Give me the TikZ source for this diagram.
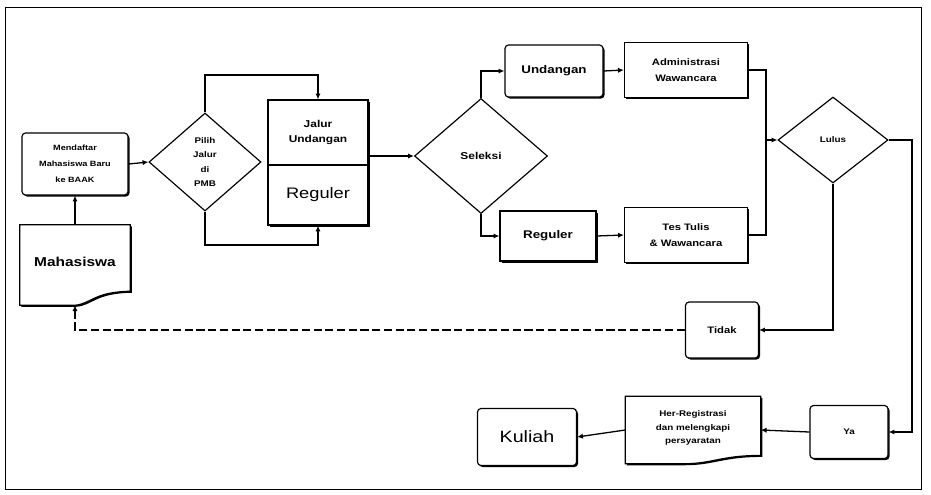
\documentclass[tikz,border=0pt]{standalone}
\usepackage{fontspec}
\setmainfont{Liberation Sans}
\newfontfamily\lbl[FakeStretch=1.2]{Liberation Sans}
\usetikzlibrary{shapes.geometric,arrows.meta,shadows}

\newcommand{\fs}[2]{\fontsize{#1}{#2}\selectfont}

\begin{document}
\begin{tikzpicture}[x=0.03cm, y=-0.03cm,
    box/.style={draw, line width=1pt, fill=white, align=center, inner sep=1pt,
        font=\lbl\bfseries\fs{7}{12},
        drop shadow={shadow xshift=1.3pt, shadow yshift=-1.3pt, opacity=1, fill=black}},
    rbox/.style={box, rounded corners=3pt},
    decision/.style={draw, diamond, line width=1pt, fill=white, align=center, inner sep=0pt,
        font=\lbl\bfseries\fs{7}{12.5}},
    docbox/.style={align=center, inner sep=0pt, font=\lbl\bfseries\fs{7}{12}},
    docline/.style={draw, line width=1pt, fill=white,
        drop shadow={shadow xshift=1.3pt, shadow yshift=-1.3pt, opacity=1, fill=black}},
    conn/.style={line width=1.1pt},
    arr/.style={line width=1.1pt, -{Latex[length=5pt,width=4.5pt]}}]

    \useasboundingbox (0,0) rectangle (931,494);
    \draw [line width=0.6pt] (5,7) rectangle (921,489);

    % registration
    \node[rbox, minimum width=3.18cm, minimum height=1.86cm, font=\lbl\bfseries\fs{6.5}{13.5}] (daftar) at (75,164) {Mendaftar\\Mahasiswa Baru\\ke BAAK};
    \node[docbox, minimum width=3.3cm, minimum height=2.4cm] (mhs) at (75,265) {};
    \path[docline] (mhs.north west) -- (mhs.north east) -- ([yshift=0.42cm]mhs.south east)
        .. controls ([xshift=-1.1cm,yshift=0.4cm]mhs.south east) and ([xshift=0.5cm,yshift=0.05cm]mhs.south) .. (mhs.south)
        -- (mhs.south west) -- cycle;
    \node[docbox, font=\lbl\bfseries\fs{11}{12}] at ([yshift=0.1cm]mhs.center) {Mahasiswa};

    \node[decision, minimum width=3.36cm, minimum height=2.94cm] (pilih) at (205,162) {Pilih\\Jalur\\di\\PMB};

    % jalur
    \node[box, minimum width=3.0cm, minimum height=1.95cm, font=\lbl\bfseries\fs{8.5}{13}] (jalur) at (318,132.5) {Jalur\\Undangan};
    \node[box, minimum width=3.0cm, minimum height=1.8cm, font=\lbl\fs{13}{14}] (regA) at (318,195) {Reguler};

    \node[decision, minimum width=3.99cm, minimum height=3.45cm, font=\lbl\bfseries\fs{8.5}{10}] (seleksi) at (481,156) {Seleksi};

    \node[rbox, minimum width=2.94cm, minimum height=1.56cm, font=\lbl\bfseries\fs{9.5}{11}] (undangan) at (554,71) {Undangan};
    \node[box, minimum width=3.69cm, minimum height=1.65cm, font=\lbl\bfseries\fs{8}{14}] (admin) at (686,70) {Administrasi\\Wawancara};
    \node[box, minimum width=2.88cm, minimum height=1.5cm, font=\lbl\bfseries\fs{9.5}{11}] (regB) at (548,236) {Reguler};
    \node[box, minimum width=3.69cm, minimum height=1.65cm, font=\lbl\bfseries\fs{8}{14}] (tes) at (686,235) {Tes Tulis\\\& Wawancara};

    \node[decision, minimum width=3.3cm, minimum height=2.58cm] (lulus) at (833,140) {Lulus};

    \node[rbox, minimum width=2.19cm, minimum height=1.68cm, font=\lbl\bfseries\fs{8}{10}] (tidak) at (722,330) {Tidak};
    \node[rbox, minimum width=2.34cm, minimum height=1.59cm] (ya) at (849,432) {Ya};

    \node[docbox, minimum width=4.05cm, minimum height=2.01cm] (herreg) at (693,430) {};
    \path[docline] (herreg.north west) -- (herreg.north east) -- ([yshift=0.25cm]herreg.south east)
        .. controls ([xshift=-1.2cm,yshift=0.25cm]herreg.south east) and ([xshift=0.6cm,yshift=0cm]herreg.south) .. ([xshift=-0.3cm]herreg.south)
        -- (herreg.south west) -- cycle;
    \node[docbox, font=\lbl\bfseries\fs{7}{11.5}] at ([yshift=0.05cm]herreg.center) {Her-Registrasi\\dan melengkapi\\persyaratan};

    \node[rbox, minimum width=2.97cm, minimum height=1.71cm, font=\lbl\fs{14}{16}] (kuliah) at (527,437) {Kuliah};

    % bends
    \coordinate (ptop) at (205,75);
    \coordinate (pbot) at (205,245);
    \coordinate (join) at (766,140);
    \coordinate (rbend) at (912,140);

    % connectors
    \draw[arr] (mhs.north) -- (daftar.south);
    \draw[arr] (daftar.east) -- (pilih.west);
    \draw[arr] (pilih.north) -- (ptop) -| (jalur.north);
    \draw[arr] (pilih.south) -- (pbot) -| (regA.south);
    \draw[arr] (jalur.east |- seleksi.west) -- (seleksi.west);
    \draw[arr] (seleksi.north) |- (undangan.west);
    \draw[arr] (seleksi.south) |- (regB.west);
    \draw[arr] (undangan.east) -- (admin.west);
    \draw[arr] (regB.east) -- (tes.west);
    \draw[conn] (admin.east) -| (join);
    \draw[conn] (tes.east) -| (join);
    \draw[arr] (join) -- (lulus.west);
    \draw[arr] (lulus.south) |- (tidak.east);
    \draw[arr, dashed, dash pattern=on 7pt off 3pt] (tidak.west) -| (mhs.south);
    \draw[arr] (lulus.east) -- (rbend) |- (ya.east);
    \draw[arr] (ya.west) -- (herreg.east);
    \draw[arr] (herreg.west) -- (kuliah.east);
\end{tikzpicture}
\end{document}
